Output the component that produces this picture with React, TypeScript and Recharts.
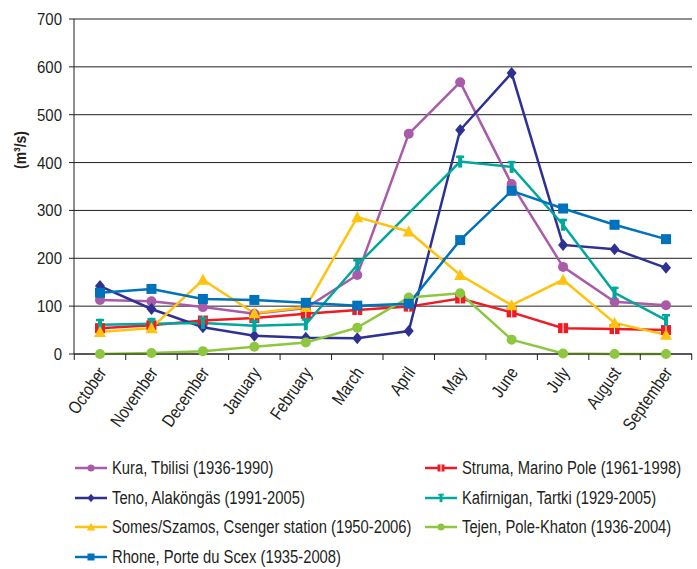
import { LineChart, Line, XAxis, YAxis, CartesianGrid } from "recharts";

const months = [
  "October", "November", "December", "January", "February", "March",
  "April", "May", "June", "July", "August", "September",
];

const kura = [113, 110, 98, 84, 96, 165, 460, 568, 355, 182, 109, 102];
const struma = [54, 60, 70, 75, 84, 92, 99, 116, 87, 54, 52, 50];
const teno = [142, 94, 56, 38, 34, 33, 48, 468, 587, 228, 219, 180];
const kafirnigan = [61, 63, 65, 59, 62, 186, null, 402, 391, 270, 128, 71];
const somes = [46, 54, 155, 85, 98, 286, 256, 165, 102, 155, 65, 40];
const tejen = [0, 2, 6, 15, 24, 55, 118, 127, 30, 1, 0, 0];
const rhone = [128, 136, 115, 113, 107, 101, 105, 238, 341, 304, 270, 240];

const yTicks = [0, 100, 200, 300, 400, 500, 600, 700];

// condensed look: Liberation Sans squeezed horizontally
const FONT = '"Liberation Sans", Arial, sans-serif';
const SQUEEZE = 0.82;
const INK = "#231f20";

type Mark = "circle" | "diamond" | "triangle" | "square" | "hsquare" | "ibeam";

const series: { key: string; name: string; color: string; mark: Mark; values: (number | null)[] }[] = [
  { key: "kura", name: "Kura, Tbilisi (1936-1990)", color: "#A95BAA", mark: "circle", values: kura },
  { key: "struma", name: "Struma, Marino Pole (1961-1998)", color: "#ED1C24", mark: "hsquare", values: struma },
  { key: "teno", name: "Teno, Alaköngäs (1991-2005)", color: "#2E3192", mark: "diamond", values: teno },
  { key: "kafirnigan", name: "Kafirnigan, Tartki (1929-2005)", color: "#00A79D", mark: "ibeam", values: kafirnigan },
  { key: "somes", name: "Somes/Szamos, Csenger station (1950-2006)", color: "#FFC20E", mark: "triangle", values: somes },
  { key: "tejen", name: "Tejen, Pole-Khaton (1936-2004)", color: "#8DC63F", mark: "circle", values: tejen },
  { key: "rhone", name: "Rhone, Porte du Scex (1935-2008)", color: "#0072BC", mark: "square", values: rhone },
];

const data = months.map((m, i) => {
  const row: Record<string, string | number | null> = { month: m };
  series.forEach((s) => (row[s.key] = s.values[i]));
  return row;
});

function marker(mark: Mark, color: string, cx: number, cy: number, s = 1) {
  switch (mark) {
    case "circle":
      return <circle cx={cx} cy={cy} r={5 * s} fill={color} />;
    case "diamond":
      return (
        <polygon
          points={`${cx},${cy - 6 * s} ${cx + 5 * s},${cy} ${cx},${cy + 6 * s} ${cx - 5 * s},${cy}`}
          fill={color}
        />
      );
    case "triangle":
      return (
        <polygon
          points={`${cx},${cy - 6 * s} ${cx + 6 * s},${cy + 5 * s} ${cx - 6 * s},${cy + 5 * s}`}
          fill={color}
        />
      );
    case "square":
      return <rect x={cx - 5 * s} y={cy - 5 * s} width={10 * s} height={10 * s} fill={color} />;
    case "hsquare":
      return (
        <g>
          <rect x={cx - 5 * s} y={cy - 5 * s} width={10 * s} height={10 * s} fill={color} />
          <line x1={cx} x2={cx} y1={cy - 5 * s} y2={cy + 5 * s} stroke="#fff" strokeWidth={1} />
        </g>
      );
    case "ibeam":
      return (
        <g fill={color}>
          <rect x={cx - 2 * s} y={cy - 6 * s} width={4 * s} height={12 * s} />
          <rect x={cx - 4 * s} y={cy - 6 * s} width={8 * s} height={2.5 * s} />
        </g>
      );
  }
}

const CHART_W = 697;
const CHART_H = 569;
const Y_W = 74;
const RIGHT = 5;
const PAD = 26;
const STEP = (CHART_W - Y_W - RIGHT - 2 * PAD) / (months.length - 1);

function MonthTick(props: any) {
  const { x, y, payload, index } = props;
  return (
    <g>
      <line x1={x - STEP / 2} x2={x - STEP / 2} y1={y - 6} y2={y} stroke={INK} />
      {index === months.length - 1 && (
        <line x1={x + STEP / 2} x2={x + STEP / 2} y1={y - 6} y2={y} stroke={INK} />
      )}
      <text
        x={0}
        y={0}
        dy="0.35em"
        textAnchor="end"
        fontSize={18}
        fontFamily={FONT}
        fill={INK}
        transform={`translate(${x + 2},${y + 9}) rotate(-55) scale(${SQUEEZE},1)`}
      >
        {payload.value}
      </text>
    </g>
  );
}

function ValueTick(props: any) {
  const { x, y, payload } = props;
  return (
    <text
      x={0}
      y={0}
      dy="0.35em"
      textAnchor="end"
      fontSize={17}
      fontFamily={FONT}
      fill={INK}
      transform={`translate(${x},${y}) scale(0.88,1)`}
    >
      {payload.value}
    </text>
  );
}

function YLabel() {
  return (
    <text
      x={0}
      y={0}
      textAnchor="middle"
      dy="0.35em"
      fontSize={17}
      fontWeight="bold"
      fontFamily={FONT}
      fill={INK}
      transform={`translate(20,150) rotate(-90) scale(${SQUEEZE},1)`}
    >
      (m³/s)
    </text>
  );
}

const col1 = ["kura", "teno", "somes", "rhone"];
const col2 = ["struma", "kafirnigan", "tejen"];

function LegendItem({ s, x, y }: { s: (typeof series)[number]; x: number; y: number }) {
  return (
    <div style={{ position: "absolute", left: x, top: y - 12, height: 24, display: "flex", alignItems: "center" }}>
      <svg width={32} height={14} style={{ marginRight: 5 }}>
        <line x1={0} x2={32} y1={7} y2={7} stroke={s.color} strokeWidth={2.5} />
        {marker(s.mark, s.color, 16, 7, 0.7)}
      </svg>
      <span
        style={{
          fontFamily: FONT,
          fontSize: 18,
          color: INK,
          whiteSpace: "nowrap",
          display: "inline-block",
          transform: `scaleX(${SQUEEZE})`,
          transformOrigin: "left center",
        }}
      >
        {s.name}
      </span>
    </div>
  );
}

export default function App() {
  const rows = [468, 498, 527, 557];
  return (
    <div style={{ position: "absolute", left: 0, top: 0, width: CHART_W, height: CHART_H, background: "#fff" }}>
      <LineChart
        width={CHART_W}
        height={CHART_H}
        data={data}
        margin={{ top: 19, right: RIGHT, bottom: 0, left: 0 }}
      >
        <CartesianGrid vertical={false} stroke={INK} strokeWidth={1} />
        <XAxis
          dataKey="month"
          height={215}
          padding={{ left: PAD, right: PAD }}
          axisLine={{ stroke: INK }}
          tickLine={false}
          tickSize={6}
          tickMargin={0}
          interval={0}
          tick={<MonthTick />}
        />
        <YAxis
          width={Y_W}
          domain={[0, 700]}
          ticks={yTicks}
          interval={0}
          axisLine={{ stroke: INK }}
          tickLine={{ stroke: INK }}
          tickSize={5}
          tickMargin={7}
          tick={<ValueTick />}
          label={<YLabel />}
        />
        {series.map((s) => (
          <Line
            key={s.key}
            dataKey={s.key}
            name={s.name}
            stroke={s.color}
            strokeWidth={2.5}
            connectNulls
            isAnimationActive={false}
            dot={(p: any) =>
              p.value == null ? <g key={p.index} /> : <g key={p.index}>{marker(s.mark, s.color, p.cx, p.cy)}</g>
            }
            activeDot={false}
          />
        ))}
      </LineChart>
      {col1.map((k, i) => (
        <LegendItem key={k} s={series.find((s) => s.key === k)!} x={75} y={rows[i]} />
      ))}
      {col2.map((k, i) => (
        <LegendItem key={k} s={series.find((s) => s.key === k)!} x={425} y={rows[i]} />
      ))}
    </div>
  );
}
